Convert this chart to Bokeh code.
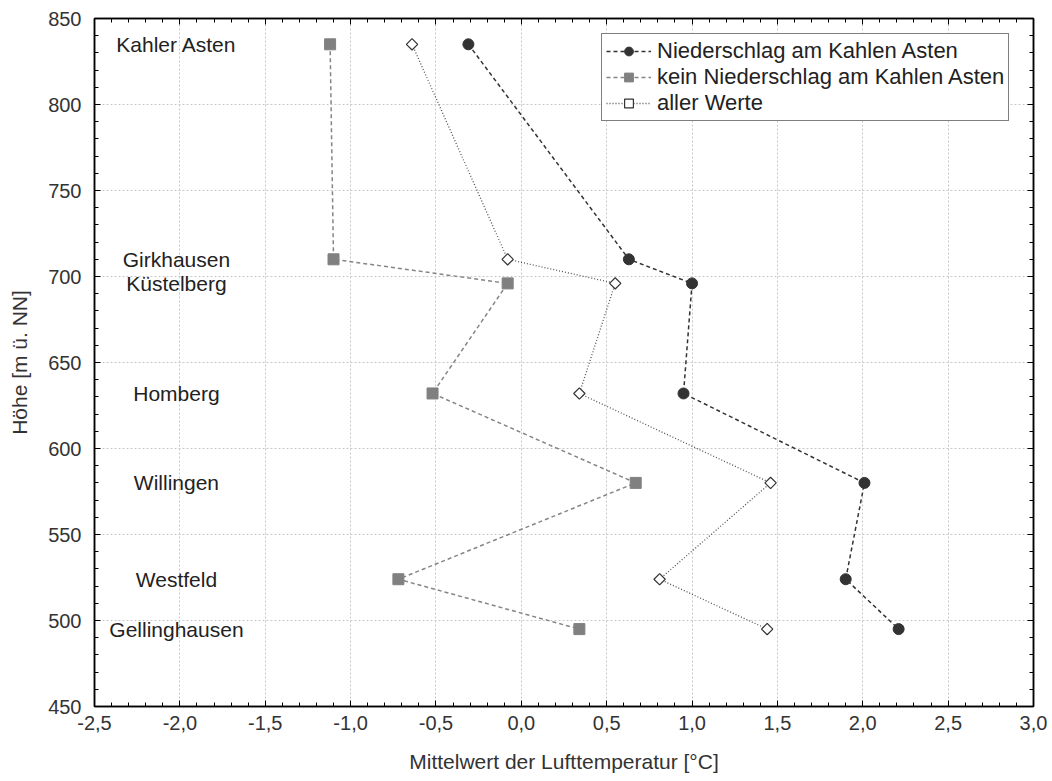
from bokeh.plotting import figure
from bokeh.models import (Range1d, LinearAxis, SingleIntervalTicker, CustomJSTickFormatter,
                          Legend, LegendItem, ColumnDataSource)
from bokeh.core.properties import value
from bokeh.embed import file_html
from bokeh.resources import INLINE
import numpy as np

# Stationen und ihre Höhe [m ü. NN]
stationen = ["Kahler Asten", "Girkhausen", "Küstelberg", "Homberg",
             "Willingen", "Westfeld", "Gellinghausen"]
hoehe = [835, 710, 696, 632, 580, 524, 495]

# Mittelwert der Lufttemperatur [°C]
mit_niederschlag = [-0.31, 0.63, 1.00, 0.95, 2.01, 1.90, 2.21]
ohne_niederschlag = [-1.12, -1.10, -0.08, -0.52, 0.67, -0.72, 0.34]
alle_werte = [-0.64, -0.08, 0.55, 0.34, 1.46, 0.81, 1.44]

label_x = [-2.02] * len(stationen)

FONT = "Liberation Sans"

p = figure(width=1052, height=781, output_backend="svg", toolbar_location=None,
           x_range=Range1d(-2.5, 3.0), y_range=Range1d(450, 850),
           min_border_left=94, min_border_right=19, min_border_top=18, min_border_bottom=75)
p.background_fill_color = "white"
p.border_fill_color = "white"
p.outline_line_color = "black"
p.outline_line_width = 1.5

xt = SingleIntervalTicker(interval=0.5, num_minor_ticks=5)
yt = SingleIntervalTicker(interval=50, num_minor_ticks=5)
comma = CustomJSTickFormatter(code="return tick.toFixed(1).replace('.', ',');")


def style_axis(ax):
    ax.axis_line_color = "black"
    ax.axis_line_width = 1.5
    ax.major_tick_in = 6
    ax.major_tick_out = 0
    ax.minor_tick_in = 4
    ax.minor_tick_out = 0
    ax.major_tick_line_color = "black"
    ax.minor_tick_line_color = "black"
    ax.major_label_text_font = FONT
    ax.major_label_text_color = "#333333"
    ax.axis_label_text_font = FONT
    ax.axis_label_text_font_style = "normal"
    ax.axis_label_text_color = "#333333"


xa = p.xaxis[0]
xa.ticker = xt
xa.formatter = comma
style_axis(xa)
xa.major_label_text_font_size = "20px"
xa.major_label_standoff = 9
xa.axis_label = "Mittelwert der Lufttemperatur [°C]"
xa.axis_label_text_font_size = "21px"
xa.axis_label_standoff = 17

ya = p.yaxis[0]
ya.ticker = yt
style_axis(ya)
ya.major_label_text_font_size = "20px"
ya.major_label_standoff = 13
ya.axis_label = "Höhe [m ü. NN]"
ya.axis_label_text_font_size = "21px"
ya.axis_label_standoff = 14

# Tick marks only on the top and right frame edges
for side, tk in (("above", xt), ("right", yt)):
    ax = LinearAxis(ticker=tk, formatter=CustomJSTickFormatter(code="return '';"))
    style_axis(ax)
    ax.major_label_standoff = 0
    p.add_layout(ax, side)

p.xgrid.ticker = xt
p.ygrid.ticker = yt
p.grid.grid_line_color = "#c8c8c8"
p.grid.grid_line_dash = "2 2"
p.grid.grid_line_width = 1

# Messreihen
src = ColumnDataSource(dict(h=hoehe, mit=mit_niederschlag, ohne=ohne_niederschlag,
                            alle=alle_werte))

l1 = p.line("mit", "h", source=src, line_color="#333333", line_width=1.5, line_dash="4 3")
m1 = p.scatter("mit", "h", source=src, marker="circle", size=11,
               fill_color="#333333", line_color="#333333")

l2 = p.line("ohne", "h", source=src, line_color="#858585", line_width=1.5, line_dash="4 3")
m2 = p.scatter("ohne", "h", source=src, marker="square", size=11,
               fill_color="#808080", line_color="#808080")

l3 = p.line("alle", "h", source=src, line_color="#555555", line_width=1.3, line_dash="1 2")
m3 = p.scatter("alle", "h", source=src, marker="square", angle=np.pi / 4, size=8,
               fill_color="white", line_color="#333333", line_width=1.2)

# Stationsnamen
p.text(x=label_x, y=hoehe, text=stationen, text_align="center", text_baseline="middle",
       text_font=value(FONT), text_font_size="21px", text_color="#222222")

legend = Legend(items=[
    LegendItem(label="Niederschlag am Kahlen Asten", renderers=[l1, m1]),
    LegendItem(label="kein Niederschlag am Kahlen Asten", renderers=[l2, m2]),
    LegendItem(label="aller Werte", renderers=[l3, m3]),
], location=(507, 585))
legend.border_line_color = "black"
legend.border_line_width = 1.5
legend.background_fill_color = "white"
legend.background_fill_alpha = 1
legend.label_text_font = FONT
legend.label_text_font_size = "22px"
legend.label_text_color = "#222222"
legend.glyph_width = 45
legend.glyph_height = 22
legend.label_height = 26
legend.label_standoff = 6
legend.spacing = 0
legend.padding = 4
legend.margin = 0
p.add_layout(legend, "center")

open("out.html", "w").write(file_html(p, INLINE))
